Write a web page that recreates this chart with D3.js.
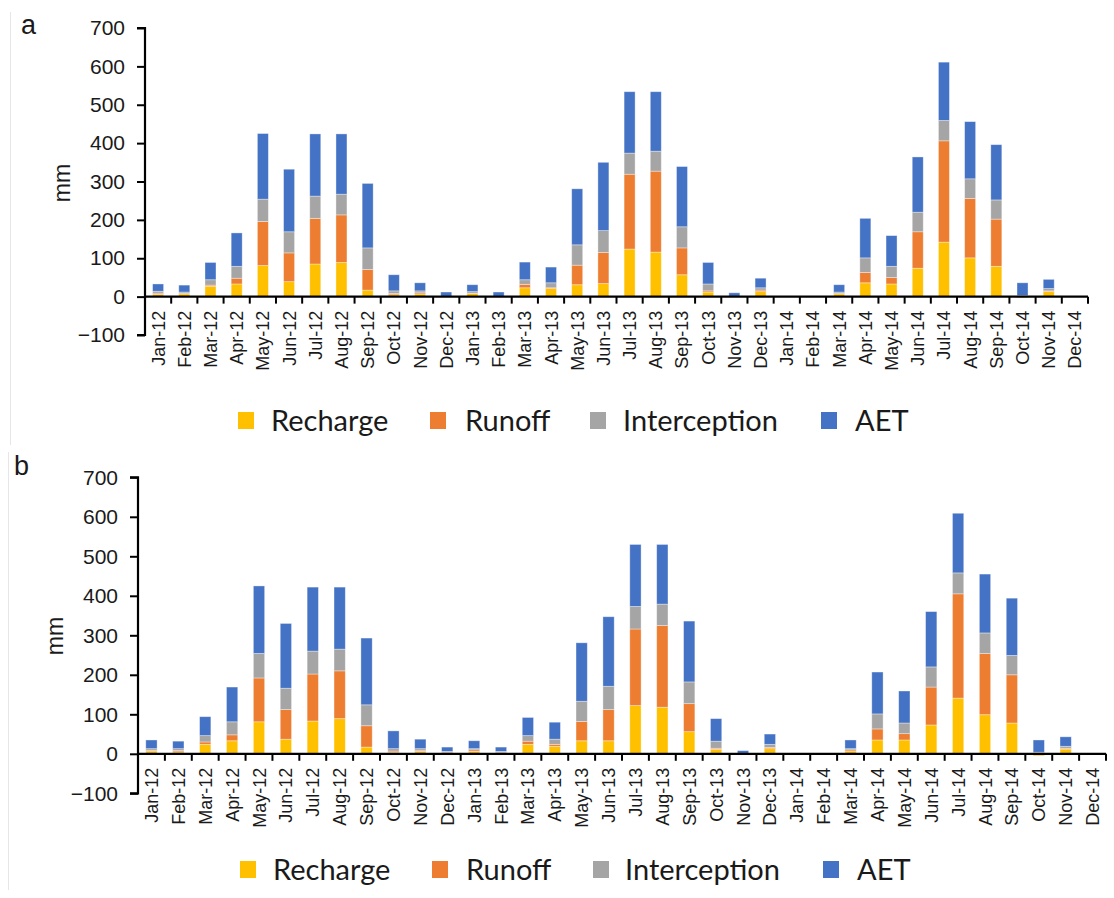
<!DOCTYPE html>
<html>
<head>
<meta charset="utf-8">
<script src="https://cdn.jsdelivr.net/npm/d3@7/dist/d3.min.js"></script>
<style>
  html, body { margin: 0; padding: 0; background: #ffffff; }
  svg text { font-family: "Liberation Sans", Arial, sans-serif; fill: #1a1a1a; }
</style>
</head>
<body>
<svg id="chart" width="1114" height="898"></svg>
<script>
// Monthly water balance components (mm), Jan 2012 – Dec 2014
const months = ["Jan-12","Feb-12","Mar-12","Apr-12","May-12","Jun-12","Jul-12","Aug-12","Sep-12","Oct-12","Nov-12","Dec-12",
                "Jan-13","Feb-13","Mar-13","Apr-13","May-13","Jun-13","Jul-13","Aug-13","Sep-13","Oct-13","Nov-13","Dec-13",
                "Jan-14","Feb-14","Mar-14","Apr-14","May-14","Jun-14","Jul-14","Aug-14","Sep-14","Oct-14","Nov-14","Dec-14"];

const seriesNames = ["Recharge", "Runoff", "Interception", "AET"];
const seriesColors = ["#FFC000", "#ED7D31", "#A5A5A5", "#4472C4"];
const yTicks = [-100, 0, 100, 200, 300, 400, 500, 600, 700];

// Panel a
const rechargeA     = [6, 7, 27, 33, 81, 39, 85, 89, 17, 5, 7, 0, 8, 0, 23, 21, 31, 34, 124, 116, 57, 12, 0, 13, 0, 0, 7, 36, 33, 74, 142, 101, 79, -3, 13, 0];
const runoffA       = [3, 1, 3, 15, 115, 75, 119, 124, 54, 3, 3, 0, 1, 0, 9, 2, 51, 81, 195, 211, 70, 3, 0, 4, 0, 0, 1, 27, 17, 95, 264, 155, 123, 0, 2, 0];
const interceptionA = [5, 4, 14, 31, 58, 55, 58, 54, 56, 7, 5, 0, 4, 0, 12, 13, 53, 57, 55, 52, 55, 18, 0, 6, 0, 0, 4, 38, 29, 51, 53, 51, 50, 3, 6, 0];
const aetA          = [19, 18, 45, 87, 171, 163, 162, 157, 168, 42, 21, 12, 18, 12, 46, 41, 146, 178, 160, 155, 157, 56, 10, 25, 0, 0, 19, 103, 80, 144, 152, 149, 144, 33, 24, 0];

// Panel b
const rechargeB     = [7, 5, 24, 33, 81, 37, 83, 89, 17, 4, 6, 1, 6, 1, 24, 19, 33, 33, 122, 118, 56, 11, 0, 13, 0, 0, 7, 35, 35, 73, 141, 99, 78, -5, 12, 0];
const runoffB       = [2, 3, 6, 15, 111, 75, 119, 121, 54, 3, 3, 3, 4, 3, 8, 5, 49, 79, 194, 207, 71, 3, 0, 3, 0, 0, 3, 28, 16, 96, 264, 155, 122, 0, 2, 0];
const interceptionB = [4, 5, 16, 33, 62, 54, 58, 55, 53, 6, 4, 2, 3, 2, 14, 13, 51, 59, 57, 54, 55, 18, 0, 8, 0, 0, 3, 38, 27, 51, 53, 52, 49, 4, 5, 0];
const aetB          = [22, 19, 48, 88, 171, 164, 162, 157, 169, 45, 24, 11, 20, 11, 46, 43, 148, 176, 157, 151, 154, 57, 8, 26, 0, 0, 22, 106, 81, 140, 151, 149, 145, 31, 24, 0];

const svg = d3.select("#chart");

// faint edges of the two figure panels
svg.append("line").attr("x1", 10.5).attr("x2", 10.5).attr("y1", 12).attr("y2", 445)
  .attr("stroke", "#e6e6e6").attr("stroke-width", 1);
svg.append("line").attr("x1", 8.5).attr("x2", 8.5).attr("y1", 452).attr("y2", 890)
  .attr("stroke", "#e6e6e6").attr("stroke-width", 1);

function drawPanel(cfg) {
  const rows = months.map((m, i) => {
    const r = { month: m };
    cfg.values.forEach((arr, k) => { r[seriesNames[k]] = arr[i]; });
    return r;
  });

  const stack = d3.stack().keys(seriesNames).offset(d3.stackOffsetDiverging);
  const layers = stack(rows);

  const x = d3.scaleBand().domain(months).range([cfg.x0, cfg.x1])
    .paddingInner(0.58).paddingOuter(0.29);
  const y = d3.scaleLinear().domain([-100, 700]).range([cfg.yBottom, cfg.yTop]);

  const g = svg.append("g");

  // bars
  g.selectAll("g.layer").data(layers).join("g")
    .attr("class", "layer")
    .attr("fill", (d, i) => seriesColors[i])
    .selectAll("rect").data(d => d).join("rect")
      .attr("x", d => x(d.data.month))
      .attr("width", x.bandwidth())
      .attr("y", d => y(Math.max(d[0], d[1])))
      .attr("height", d => Math.abs(y(d[0]) - y(d[1])))
      .attr("stroke", "#ffffff").attr("stroke-opacity", 0.45).attr("stroke-width", 0.8);

  // y axis
  const yAxis = g.append("g")
    .attr("transform", `translate(${cfg.x0},0)`)
    .call(d3.axisLeft(y).tickValues(yTicks).tickSize(8).tickPadding(12).tickFormat(d3.format("d")));
  yAxis.select(".domain").attr("stroke", "#000").attr("stroke-width", 2.2)
    .attr("d", `M-8,${y(700)}H0V${y(-100)}H-8`);
  yAxis.selectAll(".tick line").attr("stroke", "#000").attr("stroke-width", 2);
  yAxis.selectAll(".tick text").attr("font-size", 21).attr("fill", "#1a1a1a")
    .style("font-family", "'Liberation Sans', Arial, sans-serif");

  // category axis along zero
  const step = x.step();
  const xAxis = g.append("g").attr("transform", `translate(0,${y(0)})`);
  xAxis.append("line").attr("x1", cfg.x0).attr("x2", cfg.x1).attr("y1", 0).attr("y2", 0)
    .attr("stroke", "#000").attr("stroke-width", 2.2);
  xAxis.selectAll("line.tk").data(d3.range(1, months.length + 1)).join("line")
    .attr("class", "tk")
    .attr("x1", i => cfg.x0 + i * step).attr("x2", i => cfg.x0 + i * step)
    .attr("y1", 0).attr("y2", 7)
    .attr("stroke", "#000").attr("stroke-width", 2);
  xAxis.selectAll("text").data(months).join("text")
    .attr("transform", m => `translate(${x(m) + x.bandwidth() / 2 + 6.5},14) rotate(-90)`)
    .attr("text-anchor", "end")
    .attr("font-size", 18)
    .text(m => m);

  // axis title
  g.append("text")
    .attr("transform", `translate(${cfg.titleX},${cfg.titleY}) rotate(-90)`)
    .attr("text-anchor", "middle")
    .attr("font-size", 23)
    .text("mm");

  // panel letter
  g.append("text").attr("x", cfg.letterX).attr("y", cfg.letterY)
    .attr("font-size", 27).attr("fill", "#000").text(cfg.letter);

  // legend
  const leg = g.append("g");
  const items = leg.selectAll("g").data(seriesNames).join("g")
    .attr("transform", (d, i) => `translate(${cfg.legendX[i]},${cfg.legendY})`);
  items.append("rect").attr("x", 0).attr("y", -9).attr("width", 16).attr("height", 17)
    .attr("fill", (d, i) => seriesColors[i]);
  items.append("text")
    .attr("x", (d, i) => cfg.legendTextX[i] - cfg.legendX[i])
    .attr("y", 0)
    .attr("dy", "0.35em")
    .attr("font-size", 29).attr("fill", "#111")
    .style("font-family", "Lato, 'Open Sans', sans-serif")
    .text(d => d);
}

drawPanel({
  values: [rechargeA, runoffA, interceptionA, aetA],
  x0: 145, x1: 1088, yTop: 28, yBottom: 335,
  titleX: 70, titleY: 183,
  letter: "a", letterX: 21, letterY: 34,
  legendX: [238, 430, 590, 821], legendTextX: [271, 465, 623, 855], legendY: 421
});

drawPanel({
  values: [rechargeB, runoffB, interceptionB, aetB],
  x0: 138, x1: 1106, yTop: 477.3, yBottom: 793.3,
  titleX: 63, titleY: 636,
  letter: "b", letterX: 14, letterY: 475,
  legendX: [240, 432, 593, 823], legendTextX: [273, 466, 625, 857], legendY: 870
});
</script>
</body>
</html>
